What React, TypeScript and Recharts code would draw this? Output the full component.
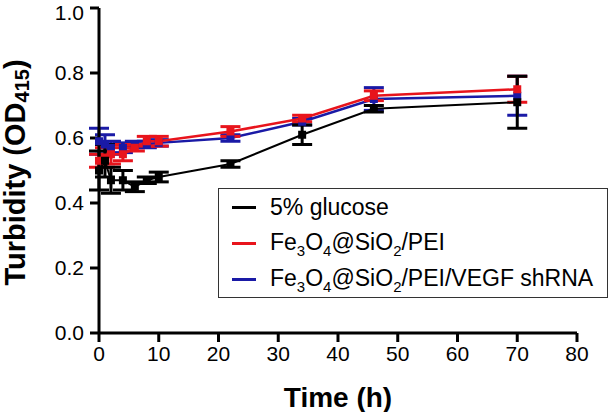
import React from "react";
import {
  LineChart,
  Line,
  XAxis,
  YAxis,
  ErrorBar,
  Legend,
  Label,
} from "recharts";

const times = [0, 1, 2, 4, 6, 8, 10, 22, 34, 46, 70];

const glucose = [0.5, 0.53, 0.47, 0.47, 0.45, 0.47, 0.48, 0.52, 0.61, 0.69, 0.71];
const glucoseErr = [0.06, 0.05, 0.04, 0.03, 0.015, 0.01, 0.015, 0.01, 0.03, 0.01, 0.08];

const pei = [0.53, 0.54, 0.55, 0.55, 0.57, 0.59, 0.59, 0.62, 0.66, 0.73, 0.75];
const peiErr = [0.02, 0.03, 0.03, 0.02, 0.01, 0.015, 0.015, 0.015, 0.01, 0.015, 0.04];

const vegf = [0.59, 0.58, 0.57, 0.57, 0.58, 0.58, 0.585, 0.6, 0.65, 0.72, 0.73];
const vegfErr = [0.04, 0.03, 0.02, 0.015, 0.01, 0.01, 0.01, 0.01, 0.01, 0.035, 0.06];

const xTicks = [0, 10, 20, 30, 40, 50, 60, 70, 80];
const yTicks = [0, 0.2, 0.4, 0.6, 0.8, 1.0];

const data = times.map((t, i) => ({
  time: t,
  glucose: glucose[i],
  glucoseErr: glucoseErr[i],
  pei: pei[i],
  peiErr: peiErr[i],
  vegf: vegf[i],
  vegfErr: vegfErr[i],
}));

const font = "'Liberation Sans', Arial, sans-serif";

const squareDot = (color: string) => (props: any) => {
  const { cx, cy, index } = props;
  return <rect key={index} x={cx - 4} y={cy - 4} width={8} height={8} fill={color} />;
};

const YTitle = ({ viewBox }: any) => {
  const x = viewBox.x + 15;
  const y = viewBox.y + viewBox.height / 2 + 2;
  return (
    <text
      x={x}
      y={y}
      transform={`rotate(-90 ${x} ${y})`}
      textAnchor="middle"
      dominantBaseline="central"
      fontFamily={font}
      fontWeight="bold"
      fontSize={29}
      fill="#000"
    >
      Turbidity (OD
      <tspan dy={7} fontSize={20}>415</tspan>
      <tspan dy={-7}>)</tspan>
    </text>
  );
};

const XTitle = ({ viewBox }: any) => (
  <text
    x={viewBox.x + viewBox.width / 2}
    y={viewBox.y + 64}
    textAnchor="middle"
    dominantBaseline="central"
    fontFamily={font}
    fontWeight="bold"
    fontSize={28}
    fill="#000"
  >
    Time (h)
  </text>
);

const sub = { fontSize: 15, position: "relative" as const, top: 6 };

const legendRows = [
  { color: "#000000", label: <>5% glucose</> },
  {
    color: "#e8141c",
    label: (
      <>
        Fe<span style={sub}>3</span>O<span style={sub}>4</span>@SiO<span style={sub}>2</span>/PEI
      </>
    ),
  },
  {
    color: "#1a1aa6",
    label: (
      <>
        Fe<span style={sub}>3</span>O<span style={sub}>4</span>@SiO<span style={sub}>2</span>/PEI/VEGF shRNA
      </>
    ),
  },
];

const LegendBox = () => (
  <div
    style={{
      border: "1.5px solid #333",
      width: 390,
      height: 110,
      boxSizing: "border-box",
      padding: "0 0 0 13px",
      fontFamily: font,
      fontSize: 23,
      lineHeight: "26px",
      color: "#000",
      background: "#fff",
    }}
  >
    {legendRows.map((r, i) => (
      <div key={i} style={{ display: "flex", alignItems: "center", height: 36, marginTop: i === 0 ? 0 : 0 }}>
        <div style={{ width: 24, height: 3, background: r.color, marginRight: 14 }} />
        <div style={{ whiteSpace: "nowrap" }}>{r.label}</div>
      </div>
    ))}
  </div>
);

export default function App() {
  return (
    <div style={{ position: "absolute", left: 0, top: 0, background: "#fff" }}>
      <LineChart
        width={613}
        height={412}
        data={data}
        margin={{ top: 8, right: 36, left: 0, bottom: 0 }}
      >
        <XAxis
          dataKey="time"
          type="number"
          domain={[0, 80]}
          ticks={xTicks}
          height={79}
          stroke="#000"
          strokeWidth={3}
          tickSize={9}
          tickMargin={4}
          tick={{ fill: "#000", fontSize: 21, fontFamily: font }}
        >
          <Label content={<XTitle />} />
        </XAxis>
        <YAxis
          type="number"
          domain={[0, 1]}
          ticks={yTicks}
          width={99}
          stroke="#000"
          strokeWidth={3}
          tickSize={9}
          tickMargin={6}
          tickFormatter={(v: number) => v.toFixed(1)}
          tick={{ fill: "#000", fontSize: 21, fontFamily: font }}
        >
          <Label content={<YTitle />} />
        </YAxis>
        <Legend
          layout="vertical"
          verticalAlign="middle"
          align="center"
          content={<LegendBox />}
          wrapperStyle={{ left: 218, top: 188, width: 390 }}
        />
        <Line
          dataKey="vegf"
          stroke="#1a1aa6"
          strokeWidth={2.5}
          dot={squareDot("#1a1aa6")}
          isAnimationActive={false}
        >
          <ErrorBar dataKey="vegfErr" direction="y" width={10} strokeWidth={3} stroke="#1a1aa6" />
        </Line>
        <Line
          dataKey="pei"
          stroke="#e8141c"
          strokeWidth={2.5}
          dot={squareDot("#e8141c")}
          isAnimationActive={false}
        >
          <ErrorBar dataKey="peiErr" direction="y" width={10} strokeWidth={3} stroke="#e8141c" />
        </Line>
        <Line
          dataKey="glucose"
          stroke="#000"
          strokeWidth={2}
          dot={squareDot("#000")}
          isAnimationActive={false}
        >
          <ErrorBar dataKey="glucoseErr" direction="y" width={10} strokeWidth={3} stroke="#000" />
        </Line>
      </LineChart>
    </div>
  );
}
